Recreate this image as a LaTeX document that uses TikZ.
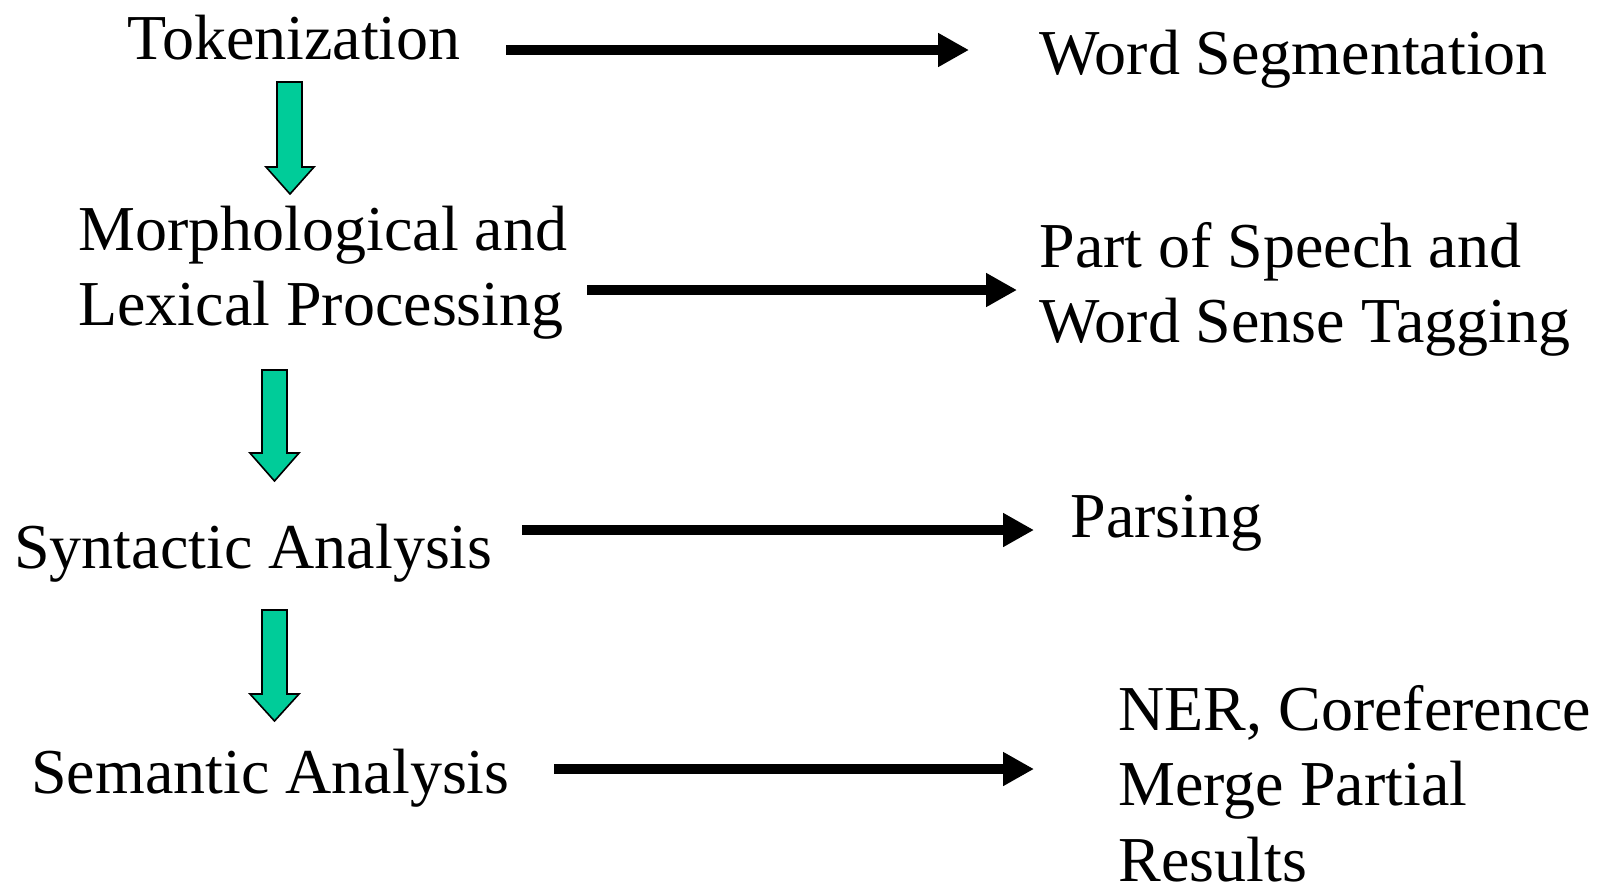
\documentclass[tikz,border=0pt]{standalone}
\usepackage{fontspec}
\setmainfont{Liberation Serif}
\usetikzlibrary{arrows.meta}

\definecolor{stagegreen}{HTML}{00CC99}
\tikzset{
  label/.style={anchor=base west, inner sep=0pt, font=\fontsize{32}{37.8}\selectfont},
  flowarrow/.style={line width=5pt, -{Triangle[length=15.5pt, width=16pt]}},
  stagearrow/.style={fill=stagegreen, draw=black, line width=0.8pt, line join=miter},
}

\newcommand{\lines}[1]{\begin{tabular}[t]{@{}l@{}}#1\end{tabular}}

\begin{document}
\begin{tikzpicture}[x=0.5pt, y=-0.5pt]
  \useasboundingbox (0,0) rectangle (1598,885);

  % processing stages (left column)
  \node[label] (tok) at (127,59) {Tokenization};
  \node[label] (morph) at (78,250) {\lines{Morphological and\\Lexical Processing}};
  \node[label] (syn) at (14,568) {Syntactic Analysis};
  \node[label] (sem) at (31,793) {Semantic Analysis};

  % corresponding tasks (right column)
  \node[label] (seg) at (1039,74) {Word Segmentation};
  \node[label] (pos) at (1039,267) {\lines{Part of Speech and\\Word Sense Tagging}};
  \node[label] (parse) at (1070,537) {Parsing};
  \node[label] (ner) at (1118,730) {\lines{NER, Coreference\\Merge Partial\\Results}};

  % arrow end points
  \coordinate (t1) at (506,50);   \coordinate (h1) at (969,50);
  \coordinate (t2) at (587,290);  \coordinate (h2) at (1017,290);
  \coordinate (t3) at (522,530);  \coordinate (h3) at (1034,530);
  \coordinate (t4) at (554,769);  \coordinate (h4) at (1034,769);

  \draw[flowarrow] (t1) -- (h1);
  \draw[flowarrow] (t2) -- (h2);
  \draw[flowarrow] (t3) -- (h3);
  \draw[flowarrow] (t4) -- (h4);

  % block arrows between stages
  \draw[stagearrow] (277,82) -- (302,82) -- (302,167) -- (314,167)
    -- (290,194) -- (266,167) -- (277,167) -- cycle;
  \draw[stagearrow] (262,370) -- (287,370) -- (287,453) -- (299,453)
    -- (274.5,481) -- (250,453) -- (262,453) -- cycle;
  \draw[stagearrow] (262,610) -- (287,610) -- (287,694) -- (299,694)
    -- (274.5,721) -- (250,694) -- (262,694) -- cycle;
\end{tikzpicture}
\end{document}
